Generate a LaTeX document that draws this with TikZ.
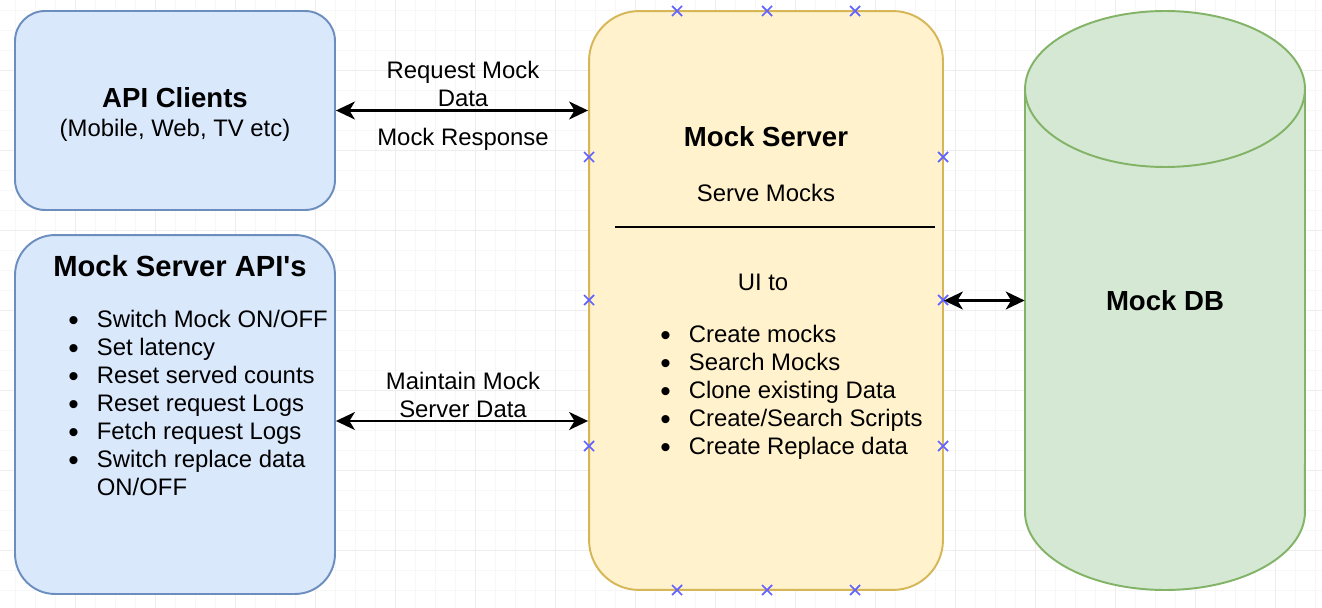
\documentclass[tikz,border=0pt]{standalone}
\usepackage{fontspec}
\setmainfont{Liberation Sans}
\usepackage{graphicx}
\usepackage{tikz}
\usepackage{xcolor}
\usetikzlibrary{arrows.meta}
\definecolor{bluefill}{HTML}{DAE8FC}
\definecolor{blueline}{HTML}{6C8EBF}
\definecolor{yellowfill}{HTML}{FFF2CC}
\definecolor{yellowline}{HTML}{D6B656}
\definecolor{greenfill}{HTML}{D5E8D4}
\definecolor{greenline}{HTML}{82B366}
\definecolor{xblue}{HTML}{6262FF}
\definecolor{gridlight}{HTML}{F7F7F7}
\definecolor{griddark}{HTML}{EDEDED}
\newcommand{\txtsize}{\fontsize{13.6pt}{15.9pt}\selectfont}
\newcommand{\ttlsize}{\fontsize{15.7pt}{17pt}\selectfont\bfseries}
\newcommand{\blt}{\makebox[0.57cm][l]{\raisebox{-0.12em}{\scalebox{1.25}{\textbullet}}}}

\begin{document}
\begin{tikzpicture}[x=0.02cm, y=-0.02cm, font=\txtsize,
  box/.style={draw, line width=1.1pt, minimum width=6.4cm, inner sep=0pt, align=center},
  bluebox/.style={box, draw=blueline, fill=bluefill},
  yellowbox/.style={box, draw=yellowline, fill=yellowfill},
  dbshape/.style={draw=greenline, fill=greenfill, line width=1.1pt},
  dbbox/.style={minimum width=5.6cm, minimum height=11.58cm, inner sep=0pt, font=\ttlsize},
  ttl/.style={inner sep=0pt, font=\ttlsize},
  lbl/.style={inner sep=0pt, align=center},
  lst/.style={inner sep=0pt, align=left, anchor=north west},
  arr/.style={{Stealth[length=0.38cm,width=0.36cm,inset=0.11cm]}-{Stealth[length=0.38cm,width=0.36cm,inset=0.11cm]}, line width=1.2pt},
  xmark/.style={xblue, line width=1pt},
  gridminor/.style={gridlight, line width=0.5pt},
  gridmajor/.style={griddark, line width=0.5pt}]
 \useasboundingbox (0,0) rectangle (1322,608);
 \fill[white] (0,0) rectangle (1322,608);
 \foreach \gx in {15,35,...,1315} \draw[gridminor] (\gx,0) -- (\gx,608);
 \foreach \gy in {10,30,...,600} \draw[gridminor] (0,\gy) -- (1322,\gy);
 \foreach \gx in {75,155,...,1275} \draw[gridmajor] (\gx,0) -- (\gx,608);
 \foreach \gy in {70,150,...,550} \draw[gridmajor] (0,\gy) -- (1322,\gy);

 \node[bluebox, minimum height=3.98cm, rounded corners=0.6cm] (clients) at (175,110.5) {};
 \node[lbl] (cltitle) at (175,114.5) {{\ttlsize API Clients}\\[1pt](Mobile, Web, TV etc)};
 \node[bluebox, minimum height=7.18cm, rounded corners=0.8cm] (apis) at (175,414.5) {};
 \node[ttl, font=\fontsize{16.6pt}{18pt}\selectfont\bfseries] (apititle) at (180,266) {Mock Server API\textquotesingle s};
 \node[lst] (apilist) at (68,310) {\blt Switch Mock ON/OFF\\ \blt Set latency\\ \blt Reset served counts\\
   \blt Reset request Logs\\ \blt Fetch request Logs\\ \blt Switch replace data\\ \hspace{0.57cm}ON/OFF};

 \node[yellowbox, minimum width=7.08cm, minimum height=11.58cm, rounded corners=1cm] (server) at (766,300.5) {};
 \node[ttl] (srvtitle) at (766,137) {Mock Server};
 \node[lbl] (serve) at (766,193) {Serve Mocks};
 \draw[line width=1.1pt] (615,227) -- (935,227);
 \node[lbl] (uito) at (763,282) {UI to};
 \node[lst] (uilist) at (660,325) {\blt Create mocks\\ \blt Search Mocks\\ \blt Clone existing Data\\
   \blt Create/Search Scripts\\ \blt Create Replace data};
 \foreach \px in {677,767,855} {
  \draw[xmark] (\px,11) +(-5,-5) -- +(5,5) +(-5,5) -- +(5,-5);
  \draw[xmark] (\px,590) +(-5,-5) -- +(5,5) +(-5,5) -- +(5,-5);
 }
 \foreach \py in {157,300,446} {
  \draw[xmark] (589,\py) +(-5,-5) -- +(5,5) +(-5,5) -- +(5,-5);
  \draw[xmark] (943,\py) +(-5,-5) -- +(5,5) +(-5,5) -- +(5,-5);
 }

 \filldraw[dbshape] (1025,89) -- (1025,512) arc[start angle=180, end angle=360, x radius=2.8cm, y radius=1.56cm]
   -- (1305,89) arc[start angle=0, end angle=180, x radius=2.8cm, y radius=1.56cm] -- cycle;
 \draw[dbshape, fill=none] (1025,89) arc[start angle=180, end angle=360, x radius=2.8cm, y radius=1.56cm];
 \node[dbbox] (db) at (1165,300.5) {Mock DB};

 \draw[arr] (clients.east) -- (clients.east -| server.west);
 \node[lbl] (reqlbl) at (463,84) {Request Mock\\Data};
 \node[lbl] (resplbl) at (463,139) {Mock Response};
 \coordinate (apiport) at (apis.east |- 0,421);
 \draw[arr] (apiport) -- (apiport -| server.west);
 \node[lbl] (maintlbl) at (463,395) {Maintain Mock\\Server Data};
 \draw[arr] (server.east) -- (db.west);
\end{tikzpicture}
\end{document}
